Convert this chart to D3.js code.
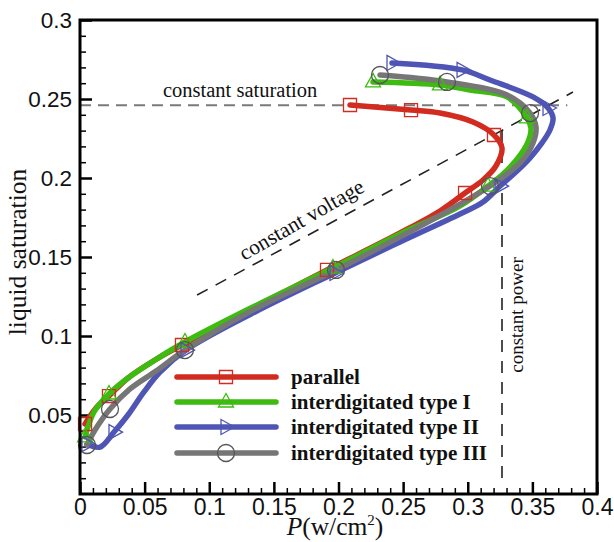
<!DOCTYPE html>
<html>
<head>
<meta charset="utf-8">
<script src="https://cdn.jsdelivr.net/npm/d3@7"></script>
<style>
  html, body { margin: 0; padding: 0; background: #fff; }
  svg { display: block; }
</style>
</head>
<body>
<svg id="chart" width="614" height="542"></svg>
<script>
// ---- data: liquid saturation vs power density for four flow-field designs ----
const seriesNames = ["parallel", "interdigitated type I", "interdigitated type II", "interdigitated type III"];
const seriesColors = ["#d22b1f", "#3dbb10", "#4f55b5", "#767676"];
const seriesSymbols = ["square", "triangleUp", "triangleRight", "circle"];

const parallelP = [0.0039,0.0124,0.0224,0.0371,0.0580,0.0789,0.1354,0.1911,0.2476,0.2785,0.2979,0.3118,0.3218,0.3265,0.3203,0.3041,0.2785,0.2561,0.2089];
const parallelS = [0.0443,0.0544,0.0620,0.0734,0.0848,0.0943,0.1184,0.1418,0.1652,0.1791,0.1905,0.1987,0.2076,0.2190,0.2272,0.2354,0.2411,0.2430,0.2462];
const parallelMarks = [0,2,5,7,10,14,17,18];

const type1P = [0.0039,0.0108,0.0224,0.0371,0.0580,0.0812,0.1354,0.1957,0.2476,0.2940,0.3157,0.3273,0.3389,0.3466,0.3489,0.3458,0.3304,0.3017,0.2785,0.2267];
const type1S = [0.0361,0.0519,0.0633,0.0734,0.0848,0.0962,0.1190,0.1430,0.1646,0.1823,0.1949,0.2025,0.2127,0.2228,0.2316,0.2380,0.2513,0.2557,0.2589,0.2608];
const type1Marks = [0,2,5,7,10,15,18,19];

const type2P = [0.0054,0.0155,0.0263,0.0371,0.0495,0.0619,0.0820,0.1354,0.1973,0.2476,0.2940,0.3118,0.3250,0.3381,0.3482,0.3574,0.3636,0.3660,0.3621,0.3505,0.3172,0.2956,0.2414];
const type2S = [0.0316,0.0297,0.0392,0.0500,0.0646,0.0772,0.0911,0.1152,0.1399,0.1595,0.1772,0.1848,0.1949,0.2044,0.2127,0.2222,0.2304,0.2380,0.2443,0.2513,0.2620,0.2684,0.2728];
const type2Marks = [0,2,6,8,12,18,21,22];

const type3P = [0.0054,0.0116,0.0232,0.0387,0.0588,0.0812,0.1354,0.1981,0.2476,0.2940,0.3172,0.3404,0.3505,0.3528,0.3482,0.3304,0.2839,0.2321];
const type3S = [0.0310,0.0405,0.0538,0.0665,0.0778,0.0911,0.1171,0.1418,0.1627,0.1835,0.1949,0.2095,0.2222,0.2323,0.2411,0.2525,0.2608,0.2652];
const type3Marks = [0,2,5,7,10,14,16,17];

// operating-mode guide lines
const saturationLine = { p: [0, 0.377], s: [0.246, 0.246] };
const powerLine = { p: [0.3265, 0.3265], s: [0.0101, 0.2323] };
const voltageLine = { p: [0.0906, 0.3814], s: [0.1259, 0.2544] };

// axis ticks
const xMajor = [0, 0.05, 0.1, 0.15, 0.2, 0.25, 0.3, 0.35, 0.4];
const xLabels = ["0", "0.05", "0.1", "0.15", "0.2", "0.25", "0.3", "0.35", "0.4"];
const yMajor = [0.05, 0.1, 0.15, 0.2, 0.25, 0.3];
const yLabels = ["0.05", "0.1", "0.15", "0.2", "0.25", "0.3"];

// ---- layout ----
const svg = d3.select("#chart");
const plotLeft = 80, plotRight = 597, plotTop = 20, plotBottom = 494;
const x = d3.scaleLinear().domain([0, 0.4]).range([plotLeft, plotRight]);
const y = d3.scaleLinear().domain([0, 0.3]).range([plotBottom, plotTop]);

svg.append("rect").attr("width", 614).attr("height", 542).attr("fill", "#fff");

const series = [
  { p: parallelP, s: parallelS, marks: parallelMarks },
  { p: type1P, s: type1S, marks: type1Marks },
  { p: type2P, s: type2S, marks: type2Marks },
  { p: type3P, s: type3S, marks: type3Marks }
].map((d, i) => ({
  ...d,
  name: seriesNames[i],
  color: seriesColors[i],
  symbol: seriesSymbols[i],
  pts: d.p.map((v, k) => [v, d.s[k]])
}));

// ---- minor & major ticks (inward) ----
const isMajor = v => Math.abs(v / 0.05 - Math.round(v / 0.05)) < 1e-6;
const minorX = d3.range(0, 0.4001, 0.01).filter(v => !isMajor(v));
const minorY = d3.range(0, 0.3001, 0.01).filter(v => !isMajor(v));
const sans = "Liberation Sans, Arial, sans-serif";

const axisG = svg.append("g");
axisG.append("g").attr("transform", `translate(0,${plotBottom})`)
  .call(d3.axisBottom(x).tickValues(minorX).tickSize(-6).tickFormat(""))
  .call(g => g.select(".domain").remove())
  .call(g => g.selectAll("line").attr("stroke", "#000").attr("stroke-width", 1.5));
axisG.append("g").attr("transform", `translate(0,${plotBottom})`)
  .call(d3.axisBottom(x).tickValues(xMajor).tickSize(-12).tickFormat((d, i) => xLabels[i]))
  .call(g => g.select(".domain").remove())
  .call(g => g.selectAll("line").attr("stroke", "#000").attr("stroke-width", 2.5))
  .call(g => g.selectAll("text").attr("font-family", sans)
    .attr("font-size", 23).attr("fill", "#111").attr("dy", "0.71em").attr("y", 5));
axisG.append("g").attr("transform", `translate(${plotLeft},0)`)
  .call(d3.axisLeft(y).tickValues(minorY).tickSize(-6).tickFormat(""))
  .call(g => g.select(".domain").remove())
  .call(g => g.selectAll("line").attr("stroke", "#000").attr("stroke-width", 1.5));
axisG.append("g").attr("transform", `translate(${plotLeft},0)`)
  .call(d3.axisLeft(y).tickValues(yMajor).tickSize(-12).tickFormat((d, i) => yLabels[i]))
  .call(g => g.select(".domain").remove())
  .call(g => g.selectAll("line").attr("stroke", "#000").attr("stroke-width", 2.5))
  .call(g => g.selectAll("text").attr("font-family", sans)
    .attr("font-size", 22.5).attr("fill", "#111").attr("x", -8));

// ---- guide lines ----
const plain = d3.line().x(d => x(d[0])).y(d => y(d[1]));
const zip = o => o.p.map((v, k) => [v, o.s[k]]);
svg.append("path").attr("d", plain(zip(saturationLine)))
  .attr("fill", "none").attr("stroke", "#7a7a7a").attr("stroke-width", 2).attr("stroke-dasharray", "11,7");
svg.append("path").attr("d", plain(zip(powerLine)))
  .attr("fill", "none").attr("stroke", "#222").attr("stroke-width", 1.6).attr("stroke-dasharray", "12,9");
svg.append("path").attr("d", plain(zip(voltageLine)))
  .attr("fill", "none").attr("stroke", "#222").attr("stroke-width", 1.6).attr("stroke-dasharray", "12,9");

// ---- curves ----
const smooth = d3.line().x(d => x(d[0])).y(d => y(d[1])).curve(d3.curveCatmullRom.alpha(0.5));
svg.append("g").selectAll("path").data(series).join("path")
  .attr("d", d => smooth(d.pts))
  .attr("fill", "none").attr("stroke", d => d.color)
  .attr("stroke-width", 5.5).attr("stroke-linecap", "round").attr("stroke-linejoin", "round");

// ---- symbols ----
function symbolPath(type) {
  switch (type) {
    case "square": return "M-6.5,-6.5H6.5V6.5H-6.5Z";
    case "triangleUp": return "M0,-8.5L7.5,5L-7.5,5Z";
    case "triangleRight": return "M8.5,0L-5,7.5L-5,-7.5Z";
    default: return d3.arc()({ innerRadius: 0, outerRadius: 8.5, startAngle: 0, endAngle: 2 * Math.PI });
  }
}
series.forEach(sr => {
  svg.append("g").selectAll("path").data(sr.marks.map(k => sr.pts[k])).join("path")
    .attr("transform", d => `translate(${x(d[0])},${y(d[1])})`)
    .attr("d", symbolPath(sr.symbol))
    .attr("fill", "none").attr("stroke", sr.symbol === "circle" ? "#555" : sr.color)
    .attr("stroke-width", 1.3);
});

// ---- frame ----
svg.append("rect").attr("x", plotLeft).attr("y", plotTop)
  .attr("width", plotRight - plotLeft).attr("height", plotBottom - plotTop)
  .attr("fill", "none").attr("stroke", "#000").attr("stroke-width", 3);

// ---- annotations ----
const serif = "Liberation Serif, Times New Roman, serif";
svg.append("text").attr("x", 163).attr("y", 97).attr("font-family", serif).attr("font-size", 20.5)
  .attr("fill", "#111").text("constant saturation");
svg.append("text").attr("transform", "translate(305,226) rotate(-30)").attr("text-anchor", "middle")
  .attr("font-family", serif).attr("font-size", 21.5).attr("fill", "#111").text("constant voltage");
svg.append("text").attr("transform", "translate(523,315) rotate(-90)").attr("text-anchor", "middle")
  .attr("font-family", serif).attr("font-size", 19).attr("fill", "#111").text("constant power");

// axis titles
svg.append("text").attr("transform", "translate(26,252) rotate(-90)").attr("text-anchor", "middle")
  .attr("font-family", serif).attr("font-size", 25.5).attr("fill", "#111").text("liquid saturation");
const xt = svg.append("text").attr("x", 335).attr("y", 535).attr("text-anchor", "middle")
  .attr("font-family", serif).attr("font-size", 25.5).attr("fill", "#111");
xt.append("tspan").attr("font-style", "italic").text("P");
xt.append("tspan").text("(w/cm");
xt.append("tspan").attr("font-size", 15).attr("dy", -10).text("2");
xt.append("tspan").attr("dy", 10).text(")");

// ---- legend ----
const legY = [377, 402, 427, 453];
const leg = svg.append("g").selectAll("g").data(series).join("g")
  .attr("transform", (d, i) => `translate(0,${legY[i]})`);
leg.append("line").attr("x1", 177).attr("x2", 276).attr("stroke", d => d.color)
  .attr("stroke-width", 5.5).attr("stroke-linecap", "round");
leg.append("path").attr("transform", "translate(226,0)").attr("d", d => symbolPath(d.symbol))
  .attr("fill", "none").attr("stroke", d => d.symbol === "circle" ? "#555" : d.color).attr("stroke-width", 1.3);
leg.append("text").attr("x", 291).attr("y", 7).attr("font-family", serif).attr("font-weight", "bold")
  .attr("font-size", 21).attr("fill", "#111").text(d => d.name);
</script>
</body>
</html>
